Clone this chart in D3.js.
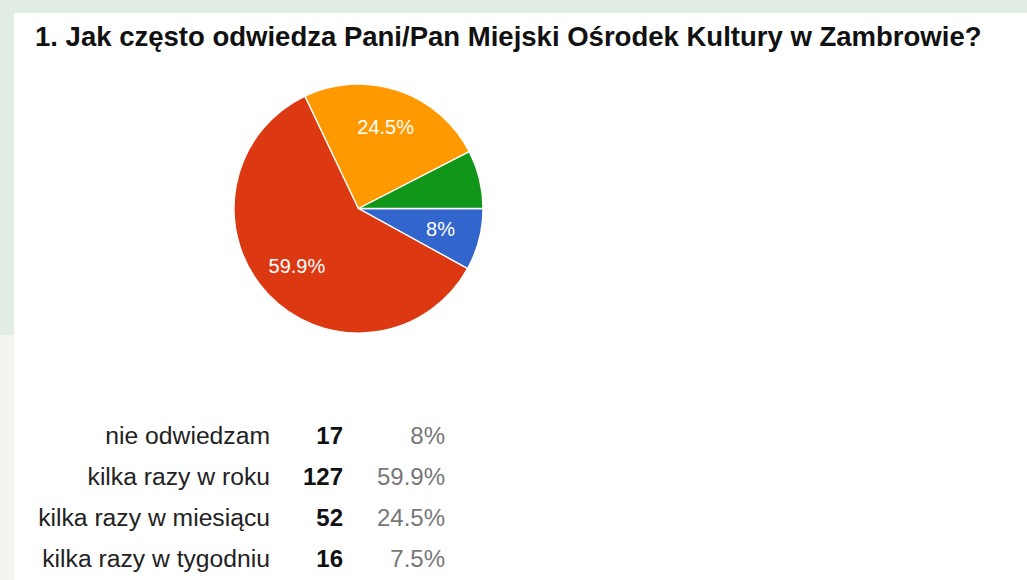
<!DOCTYPE html>
<html>
<head>
<meta charset="utf-8">
<script src="https://cdn.jsdelivr.net/npm/d3@7"></script>
<style>
    html, body { margin: 0; padding: 0; background: #ffffff; }
    svg { display: block; }
</style>
</head>
<body>
<div id="chart"></div>
<script>
// survey answers, in the order the pie draws them
let categories = ["nie odwiedzam", "kilka razy w roku", "kilka razy w miesiącu", "kilka razy w tygodniu"];
let counts = [17, 127, 52, 16];
let percent_labels = ["8%", "59.9%", "24.5%", "7.5%"];
let slice_labels = ["8%", "59.9%", "24.5%", ""];   // google hides the one that doesn't fit
let slice_colors = ["#3366cc", "#dc3912", "#ff9900", "#109618"];
let title = "1. Jak często odwiedza Pani/Pan Miejski Ośrodek Kultury w Zambrowie?";

document.addEventListener("DOMContentLoaded", function(event) {

    let dims = { width: 1027, height: 580 };
    let font = "'Liberation Sans', Arial, sans-serif";

    let svg = d3.select("#chart")
        .append("svg")
            .attr("width", dims.width)
            .attr("height", dims.height);

    // page frame around the white panel
    svg.append("rect")
        .attr("width", dims.width).attr("height", dims.height)
        .attr("fill", "#e1ece3");
    svg.append("rect")
        .attr("x", 0).attr("y", 335)
        .attr("width", 14).attr("height", dims.height - 335)
        .attr("fill", "#f3f3f0");
    svg.append("rect")
        .attr("x", 14).attr("y", 13)
        .attr("width", dims.width - 14).attr("height", dims.height - 13)
        .attr("fill", "#ffffff");

    // title, sized so it spans the same width as in the original
    let title_text = svg.append("text")
        .attr("x", 35)
        .attr("y", 46)
        .style("font-family", font)
        .style("font-weight", "bold")
        .style("font-size", "26px")
        .style("fill", "#111")
        .text(title);
    let w = title_text.node().getComputedTextLength();
    title_text.style("font-size", (26 * 947 / w) + "px");

    // the pie
    let radius = 124.5;
    let cx = 358.5, cy = 208.5;

    let pie = d3.pie()
        .sort(null)
        .startAngle(Math.PI / 2)
        .endAngle(Math.PI / 2 + 2 * Math.PI);

    let arc = d3.arc().innerRadius(0).outerRadius(radius);
    let label_arc = d3.arc().innerRadius(radius * 0.68).outerRadius(radius * 0.68);

    let g = svg.append("g")
        .attr("transform", "translate(" + cx + "," + cy + ")");

    let slices = pie(counts);

    g.selectAll("path")
        .data(slices)
        .enter()
        .append("path")
            .attr("d", arc)
            .attr("fill", (d, i) => slice_colors[i])
            .attr("stroke", "#ffffff")
            .attr("stroke-width", 1.3);

    g.selectAll("text")
        .data(slices)
        .enter()
        .append("text")
            .attr("transform", d => "translate(" + label_arc.centroid(d) + ")")
            .attr("text-anchor", "middle")
            .attr("dy", "0.3em")
            .style("font-family", font)
            .style("font-size", "20px")
            .style("fill", "#ffffff")
            .text((d, i) => slice_labels[i]);

    // table below the pie
    let rows = d3.scaleBand()
        .domain(categories)
        .range([415, 579])
        .padding(0);

    let table = svg.append("g")
        .style("font-family", font)
        .style("font-size", "24px");

    table.selectAll(".cat")
        .data(categories)
        .enter()
        .append("text")
            .attr("class", "cat")
            .attr("x", 270)
            .attr("y", d => rows(d) + rows.bandwidth() * 0.7)
            .attr("text-anchor", "end")
            .style("font-size", "24.7px")
            .style("fill", "#222")
            .text(d => d);

    table.selectAll(".count")
        .data(categories)
        .enter()
        .append("text")
            .attr("class", "count")
            .attr("x", 343)
            .attr("y", d => rows(d) + rows.bandwidth() * 0.7)
            .attr("text-anchor", "end")
            .style("font-weight", "bold")
            .style("fill", "#111")
            .text((d, i) => counts[i]);

    table.selectAll(".pct")
        .data(categories)
        .enter()
        .append("text")
            .attr("class", "pct")
            .attr("x", 445)
            .attr("y", d => rows(d) + rows.bandwidth() * 0.7)
            .attr("text-anchor", "end")
            .style("fill", "#777")
            .text((d, i) => percent_labels[i]);
});
</script>
</body>
</html>
